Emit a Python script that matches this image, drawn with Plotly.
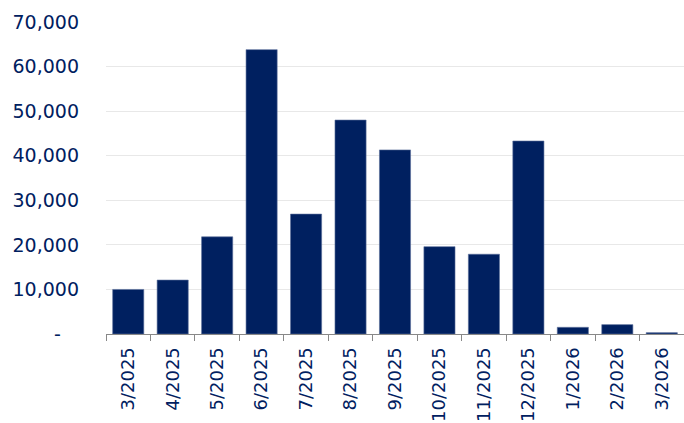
import plotly.graph_objects as go

categories = ["3/2025", "4/2025", "5/2025", "6/2025", "7/2025", "8/2025", "9/2025",
              "10/2025", "11/2025", "12/2025", "1/2026", "2/2026", "3/2026"]
values = [10000, 12100, 21800, 63800, 26900, 48000, 41300, 19600, 17900, 43300, 1500, 2100, 300]

y_tickvals = [0, 10000, 20000, 30000, 40000, 50000, 60000, 70000]
y_ticktext = ["-\u00a0\u00a0\u00a0", "10,000", "20,000", "30,000", "40,000", "50,000", "60,000", "70,000"]

navy = "#002060"

fig = go.Figure(go.Bar(
    x=categories, y=values,
    marker=dict(color=navy, line=dict(color="#5a6f9a", width=0.6)),
))

fig.update_layout(
    width=684, height=423,
    margin=dict(l=106, r=0, t=22, b=89),
    paper_bgcolor="white", plot_bgcolor="white",
    bargap=0.3,
    showlegend=False,
    font=dict(family="DejaVu Sans", size=19, color=navy),
)
fig.update_xaxes(
    type="category", tickangle=-90, tickson="boundaries",
    ticks="outside", ticklen=6, tickcolor="#888888", tickwidth=1,
    showline=True, linecolor="#888888", linewidth=1,
    showgrid=False, automargin=False, ticklabelstandoff=5,
    tickfont=dict(family="DejaVu Sans", size=18, color=navy),
)
fig.update_yaxes(
    range=[0, 70000], tickvals=y_tickvals, ticktext=y_ticktext,
    showgrid=True, gridcolor="#e8e8e8", gridwidth=1,
    zeroline=False, showline=False, ticks="",
    ticklabelstandoff=26, automargin=False,
    tickfont=dict(family="DejaVu Sans", size=19, color=navy),
)

fig.write_html("out.html")
